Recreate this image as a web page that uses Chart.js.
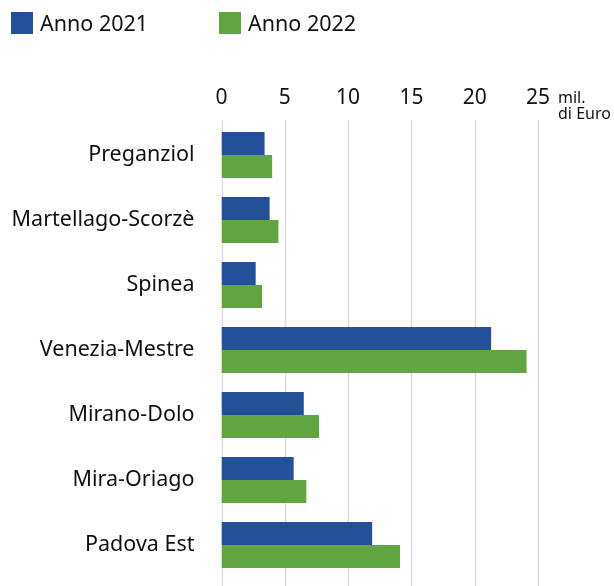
<!DOCTYPE html>
<html>
<head>
<meta charset="utf-8">
<script src="https://cdn.jsdelivr.net/npm/chart.js@4/dist/chart.umd.min.js"></script>
<style>
html,body{margin:0;padding:0;background:#fff;}
#wrap{width:614px;height:586px;position:relative;}
</style>
</head>
<body>
<div id="wrap"><canvas id="c" width="614" height="586"></canvas></div>
<script>
const categories = ["Preganziol","Martellago-Scorzè","Spinea","Venezia-Mestre","Mirano-Dolo","Mira-Oriago","Padova Est"];
const series2021 = [3.4, 3.8, 2.7, 21.3, 6.5, 5.7, 11.9];
const series2022 = [4.0, 4.5, 3.2, 24.1, 7.7, 6.7, 14.1];
const seriesLabels = ["Anno 2021","Anno 2022"];
const tickValues = [0,5,10,15,20,25];
const unitLines = ["mil.","di Euro"];

const FONT = "'Noto Sans', 'Open Sans', sans-serif";
const BLUE = "#24509A", GREEN = "#60A542", GRID = "#dddddd", TXT = "#111111";

const gridPlugin = {
  id:'gridPlugin',
  beforeDatasetsDraw(chart){
    const ctx = chart.ctx, x = chart.scales.x;
    ctx.save();
    ctx.strokeStyle = GRID; ctx.lineWidth = 1.6;
    tickValues.forEach(v=>{
      const px = Math.round(x.getPixelForValue(v))+0.5;
      ctx.beginPath(); ctx.moveTo(px, 120); ctx.lineTo(px, 586); ctx.stroke();
    });
    ctx.restore();
  },
  afterDraw(chart){
    const ctx = chart.ctx;
    ctx.save();
    ctx.font = "21.5px " + FONT; ctx.textBaseline = 'middle'; ctx.fillStyle = TXT;
    const colors = [BLUE, GREEN];
    const xs = [11, 219];
    seriesLabels.forEach((l,i)=>{
      ctx.fillStyle = colors[i]; ctx.fillRect(xs[i], 12, 22, 22);
      ctx.fillStyle = TXT; ctx.fillText(l, xs[i]+29, 25);
    });
    ctx.font = "16px " + FONT; ctx.textBaseline = 'alphabetic';
    ctx.fillText(unitLines[0], 558, 103);
    ctx.fillText(unitLines[1], 558, 119);
    ctx.restore();
  }
};

new Chart(document.getElementById('c'), {
  type:'bar',
  data:{
    labels:categories,
    datasets:[
      {label:seriesLabels[0], data:series2021, backgroundColor:BLUE, categoryPercentage:0.708, barPercentage:1},
      {label:seriesLabels[1], data:series2022, backgroundColor:GREEN, categoryPercentage:0.708, barPercentage:1}
    ]
  },
  options:{
    indexAxis:'y',
    responsive:false,
    animation:false,
    layout:{padding:{top:0,right:76,bottom:8.5,left:0}},
    plugins:{legend:{display:false}, tooltip:{enabled:false}},
    scales:{
      x:{
        position:'top', min:0, max:25,
        afterBuildTicks(s){ s.ticks = tickValues.map(v=>({value:v})); },
        afterFit(s){ s.height = 122.5; s.paddingLeft = 0; s.paddingRight = 0; },
        grid:{display:false, drawTicks:false},
        border:{display:false},
        ticks:{color:TXT, font:{family:FONT, size:21}, padding:12, maxRotation:0}
      },
      y:{
        afterFit(s){ s.width = 221.5; s.paddingTop = 0; s.paddingBottom = 0; },
        grid:{display:false, drawTicks:false},
        border:{display:false},
        ticks:{color:TXT, font:{family:FONT, size:21.5}, padding:27}
      }
    }
  },
  plugins:[gridPlugin]
});
</script>
</body>
</html>
